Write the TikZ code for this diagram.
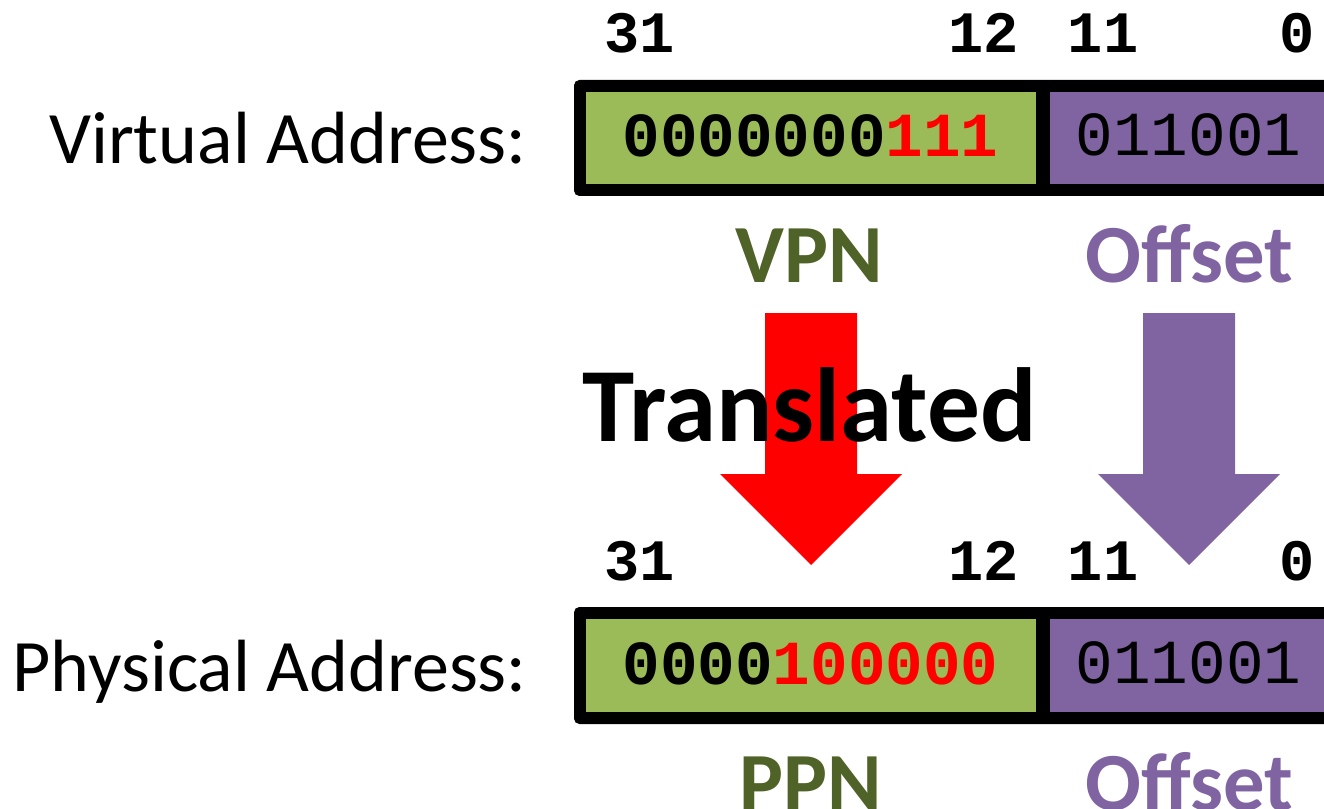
\documentclass[tikz,border=0pt]{standalone}
\usepackage{fontspec}
\setmainfont{Carlito}
\newfontfamily\bitmono{Liberation Mono}
\definecolor{fieldgreen}{HTML}{9BBB59}
\definecolor{fieldpurple}{HTML}{8064A2}
\definecolor{labelgreen}{HTML}{4F6228}
\definecolor{hotred}{HTML}{FF0000}
\tikzset{
  txt/.style={inner sep=0pt, anchor=base},
  rowlabel/.style={inner sep=0pt, anchor=base east, font=\fontsize{55.5}{60}\selectfont},
  bitno/.style={txt, font=\bitmono\bfseries\fontsize{44}{48}\selectfont},
  bitsbold/.style={txt, font=\bitmono\bfseries\fontsize{47}{50}\selectfont},
  bitsthin/.style={txt, font=\bitmono\fontsize{47}{50}\selectfont},
  fieldname/.style={txt, font=\bfseries\fontsize{62}{66}\selectfont},
  frame/.style={fill=black, rounded corners=4pt},
}
\begin{document}
\begin{tikzpicture}[x=0.75pt,y=-0.75pt]
\useasboundingbox (0,0) rectangle (1324,809);
\clip (0,0) rectangle (1324,809);

% ---- virtual address register ----
\fill[frame] (574,80) rectangle (1360,196);
\fill[fieldgreen] (586,92) rectangle (1036,184);
\fill[fieldpurple] (1050,92) rectangle (1360,184);
\node[rowlabel] (vlabel) at (527,164) {Virtual Address:};
\node[bitno] (v31) at (639.5,53) {31};
\node[bitno] (v12) at (983.5,53) {12};
\node[bitno] (v11) at (1103,53) {11};
\node[bitno] (v0)  at (1297,53) {0};
\node[bitsbold] (vpnbits) at (810.5,157) {0000000\textcolor{hotred}{111}};
\node[bitsthin] (voffbits) at (1188.5,156) {011001};
\node[fieldname, text=labelgreen] (vpn) at (809,283) {VPN};
\node[fieldname, text=fieldpurple] (voff) at (1189,283) {Offset};

% ---- block arrows ----
\fill[hotred] (765,313) -- (857,313) -- (857,474) -- (902,474) -- (811,565)
  -- (720,474) -- (765,474) -- cycle;
\fill[fieldpurple] (1143,313) -- (1235,313) -- (1235,474) -- (1280,474) -- (1189,565)
  -- (1098,474) -- (1143,474) -- cycle;
\node[txt, font=\bfseries\fontsize{79}{82}\selectfont] (translated) at (809.5,441) {Translated};

% ---- physical address register ----
\fill[frame] (574,607) rectangle (1360,724);
\fill[fieldgreen] (586,619) rectangle (1036,712);
\fill[fieldpurple] (1050,619) rectangle (1360,712);
\node[rowlabel] (plabel) at (527,691) {Physical Address:};
\node[bitno] (p31) at (639.5,580) {31};
\node[bitno] (p12) at (983.5,580) {12};
\node[bitno] (p11) at (1103,580) {11};
\node[bitno] (p0)  at (1297,580) {0};
\node[bitsbold] (ppnbits) at (810.5,684) {0000\textcolor{hotred}{100000}};
\node[bitsthin] (poffbits) at (1188.5,683) {011001};
\node[fieldname, text=labelgreen] (ppn) at (811,810) {PPN};
\node[fieldname, text=fieldpurple] (poff) at (1189,810) {Offset};
\end{tikzpicture}
\end{document}
